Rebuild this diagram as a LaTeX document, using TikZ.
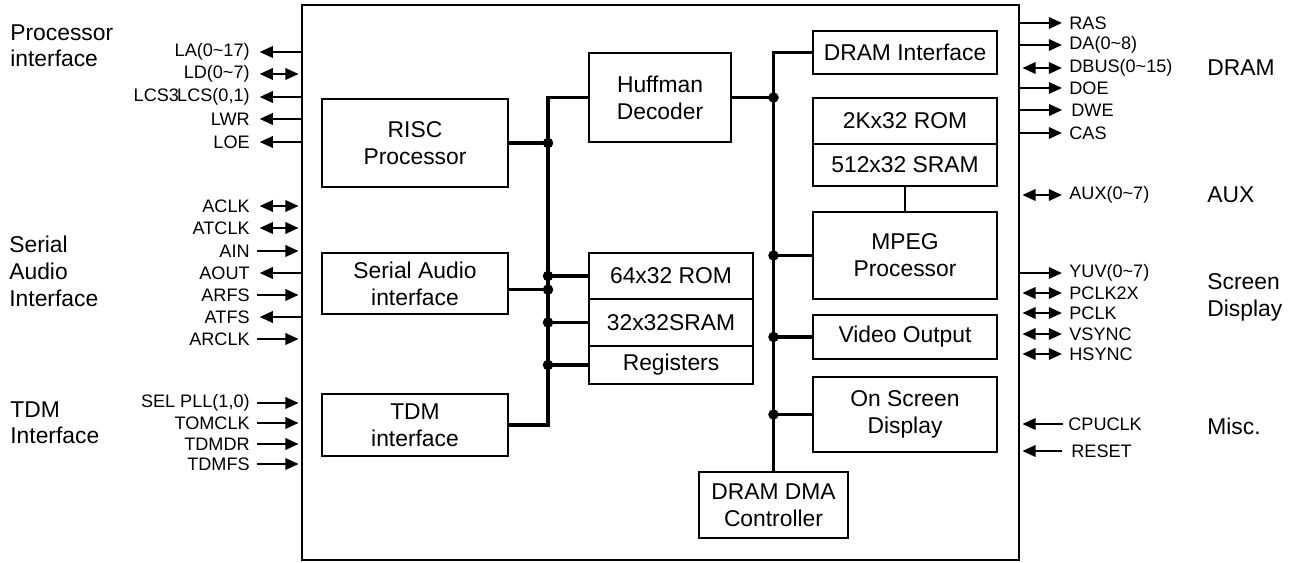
\documentclass[tikz,border=0pt]{standalone}
\usepackage{fontspec}
\setmainfont{Liberation Sans}
\usetikzlibrary{arrows.meta,positioning}

\tikzset{
  blk/.style={draw, line width=1.2pt, align=center, inner sep=0pt, outer sep=0pt, font=\fontsize{13}{15.3}\selectfont},
  grp/.style={inner sep=0pt, align=left, font=\fontsize{13}{15.3}\selectfont},
  pinl/.style={inner sep=0pt, font=\fontsize{10.3}{12}\selectfont},
  bus/.style={line width=2pt},
  sig/.style={line width=1.3pt},
  dot/.style={circle, fill, inner sep=0pt, minimum size=6pt},
}

\begin{document}
\begin{tikzpicture}[x=0.02cm, y=-0.02cm, >={Triangle[length=7.5pt,width=6.5pt]}]
  \useasboundingbox (0,0) rectangle (1294,563);
  \node[draw, line width=1.5pt, outer sep=0pt, minimum width=14.34cm, minimum height=11.1cm] (chip) at (660.5,282.5) {};

  % blocks inside the chip
  \node[blk, minimum width=3.72cm, minimum height=1.76cm] (risc) at (415,143) {RISC\\Processor};
  \node[blk, minimum width=3.72cm, minimum height=1.22cm] (serial) at (415,283.5) {Serial Audio\\interface};
  \node[blk, minimum width=3.72cm, minimum height=1.24cm] (tdm) at (415,425) {TDM\\interface};

  \node[blk, minimum width=2.84cm, minimum height=1.78cm] (huff) at (660,97.5) {Huffman\\Decoder};
  \node[blk, minimum width=3.28cm, minimum height=0.92cm] (rom64) at (671,276) {64x32 ROM};
  \node[blk, minimum width=3.28cm, minimum height=0.94cm, below=0pt of rom64] (sram32) {32x32SRAM};
  \node[blk, minimum width=3.28cm, minimum height=0.76cm, below=0pt of sram32] (regs) {Registers};
  \node[blk, minimum width=2.98cm, minimum height=1.32cm] (dma) at (773.5,505) {DRAM DMA\\Controller};

  \node[blk, minimum width=3.68cm, minimum height=0.86cm] (draminf) at (905,52.5) {DRAM Interface};
  \node[blk, minimum width=3.68cm, minimum height=0.92cm] (rom2k) at (905,121) {2Kx32 ROM};
  \node[blk, minimum width=3.68cm, minimum height=0.84cm, below=0pt of rom2k] (sram512) {512x32 SRAM};
  \node[blk, minimum width=3.68cm, minimum height=1.74cm] (mpeg) at (905,255.5) {MPEG\\Processor};
  \node[blk, minimum width=3.68cm, minimum height=0.88cm] (vout) at (905,337) {Video Output};
  \node[blk, minimum width=3.68cm, minimum height=1.5cm] (osd) at (905,414.5) {On Screen\\Display};

  % left bus
  \coordinate (lb) at (548,0);
  \draw[bus] (huff.west) -- (huff.west -| lb) -- (tdm.east -| lb) -- (tdm.east);
  \draw[bus] (risc.east) -- (risc.east -| lb) node[dot] {};
  \draw[bus] ([yshift=-3.5pt]serial.east) -- ([yshift=-3.5pt]serial.east -| lb) node[dot] {};
  \draw[bus] (rom64.west) -- (rom64.west -| lb) node[dot] {};
  \draw[bus] (sram32.west) -- (sram32.west -| lb) node[dot] {};
  \draw[bus] (regs.west) -- (regs.west -| lb) node[dot] {};

  % right bus
  \draw[bus] (draminf.west) -- (draminf.west -| dma.north) -- (dma.north);
  \draw[bus] (huff.east) -- (huff.east -| dma.north) node[dot] {};
  \draw[bus] (mpeg.west) -- (mpeg.west -| dma.north) node[dot] {};
  \draw[bus] (vout.west) -- (vout.west -| dma.north) node[dot] {};
  \draw[bus] (osd.west) -- (osd.west -| dma.north) node[dot] {};
  \draw[sig] (sram512.south) -- (mpeg.north);

  % processor interface pins
  \node[pinl, anchor=east] (la) at (250,52) {LA(0\textasciitilde17)};
  \node[pinl, anchor=east] (ld) at (250,74) {LD(0\textasciitilde7)};
  \node[pinl, anchor=east] (lcs) at (250,97) {LCS3\kern-1pt LCS(0,1)};
  \node[pinl, anchor=east] (lwr) at (250,119) {LWR};
  \node[pinl, anchor=east] (loe) at (250,142) {LOE};
  \draw[sig, <-] ([xshift=5.5pt]la.east) -- (la -| chip.west);
  \draw[sig, <->] ([xshift=5.5pt]ld.east) -- ([xshift=-2pt]ld -| chip.west);
  \draw[sig, <-] ([xshift=5.5pt]lcs.east) -- (lcs -| chip.west);
  \draw[sig, <-] ([xshift=5.5pt]lwr.east) -- (lwr -| chip.west);
  \draw[sig, <-] ([xshift=5.5pt]loe.east) -- (loe -| chip.west);

  % serial audio pins
  \node[pinl, anchor=east] (aclk) at (250,206) {ACLK};
  \node[pinl, anchor=east] (atclk) at (250,228) {ATCLK};
  \node[pinl, anchor=east] (ain) at (250,251) {AIN};
  \node[pinl, anchor=east] (aout) at (250,273) {AOUT};
  \node[pinl, anchor=east] (arfs) at (250,295) {ARFS};
  \node[pinl, anchor=east] (atfs) at (250,317) {ATFS};
  \node[pinl, anchor=east] (arclk) at (250,339) {ARCLK};
  \draw[sig, <->] ([xshift=5.5pt]aclk.east) -- ([xshift=-2pt]aclk -| chip.west);
  \draw[sig, <->] ([xshift=5.5pt]atclk.east) -- ([xshift=-2pt]atclk -| chip.west);
  \draw[sig, ->] ([xshift=4pt]ain.east) -- ([xshift=-2pt]ain -| chip.west);
  \draw[sig, <-] ([xshift=5.5pt]aout.east) -- (aout -| chip.west);
  \draw[sig, ->] ([xshift=4pt]arfs.east) -- ([xshift=-2pt]arfs -| chip.west);
  \draw[sig, <-] ([xshift=5.5pt]atfs.east) -- (atfs -| chip.west);
  \draw[sig, ->] ([xshift=4pt]arclk.east) -- ([xshift=-2pt]arclk -| chip.west);

  % tdm pins
  \node[pinl, anchor=east] (selpll) at (250,403) {SEL PLL(1,0)};
  \node[pinl, anchor=east] (tomclk) at (250,423) {TOMCLK};
  \node[pinl, anchor=east] (tdmdr) at (250,444) {TDMDR};
  \node[pinl, anchor=east] (tdmfs) at (250,464) {TDMFS};
  \draw[sig, ->] ([xshift=4pt]selpll.east) -- ([xshift=-2pt]selpll -| chip.west);
  \draw[sig, ->] ([xshift=4pt]tomclk.east) -- ([xshift=-2pt]tomclk -| chip.west);
  \draw[sig, ->] ([xshift=4pt]tdmdr.east) -- ([xshift=-2pt]tdmdr -| chip.west);
  \draw[sig, ->] ([xshift=4pt]tdmfs.east) -- ([xshift=-2pt]tdmfs -| chip.west);

  % dram pins
  \node[pinl, anchor=west] (ras) at (1069,23) {RAS};
  \node[pinl, anchor=west] (da) at (1069,45) {DA(0\textasciitilde8)};
  \node[pinl, anchor=west] (dbus) at (1069,68) {DBUS(0\textasciitilde15)};
  \node[pinl, anchor=west] (doe) at (1069,88) {DOE};
  \node[pinl, anchor=west] (dwe) at (1071,110) {DWE};
  \node[pinl, anchor=west] (cas) at (1069,133) {CAS};
  \draw[sig, ->] (ras -| chip.east) -- ([xshift=-4pt]ras.west);
  \draw[sig, ->] (da -| chip.east) -- ([xshift=-4pt]da.west);
  \draw[sig, <->] ([xshift=2pt]dbus -| chip.east) -- ([xshift=-4pt]dbus.west);
  \draw[sig, ->] (doe -| chip.east) -- ([xshift=-4pt]doe.west);
  \draw[sig, ->] (dwe -| chip.east) -- ([xshift=-5pt]dwe.west);
  \draw[sig, ->] (cas -| chip.east) -- ([xshift=-4pt]cas.west);

  % aux and screen pins
  \node[pinl, anchor=west] (aux) at (1069,195) {AUX(0\textasciitilde7)};
  \node[pinl, anchor=west] (yuv) at (1069,273) {YUV(0\textasciitilde7)};
  \node[pinl, anchor=west] (pclkx) at (1069,293) {PCLK2X};
  \node[pinl, anchor=west] (pclk) at (1069,313) {PCLK};
  \node[pinl, anchor=west] (vsync) at (1069,334) {VSYNC};
  \node[pinl, anchor=west] (hsync) at (1069,354) {HSYNC};
  \draw[sig, <->] ([xshift=2pt]aux -| chip.east) -- ([xshift=-4pt]aux.west);
  \draw[sig, ->] (yuv -| chip.east) -- ([xshift=-4pt]yuv.west);
  \draw[sig, <->] ([xshift=2pt]pclkx -| chip.east) -- ([xshift=-4pt]pclkx.west);
  \draw[sig, <->] ([xshift=2pt]pclk -| chip.east) -- ([xshift=-4pt]pclk.west);
  \draw[sig, <->] ([xshift=2pt]vsync -| chip.east) -- ([xshift=-4pt]vsync.west);
  \draw[sig, <->] ([xshift=2pt]hsync -| chip.east) -- ([xshift=-4pt]hsync.west);

  % misc pins
  \node[pinl, anchor=west] (cpuclk) at (1068,424) {CPUCLK};
  \node[pinl, anchor=west] (reset) at (1071,451) {RESET};
  \draw[sig, ->] ([xshift=-3pt]cpuclk.west) -- ([xshift=2pt]cpuclk -| chip.east);
  \draw[sig, ->] ([xshift=-5pt]reset.west) -- ([xshift=2pt]reset -| chip.east);

  % group names
  \node[grp, anchor=north west] (gproc) at (10,24) {Processor\\interface};
  \node[grp, anchor=north west] (gsai) at (9,236) {Serial\\Audio\\Interface};
  \node[grp, anchor=north west] (gtdm) at (10,401) {TDM\\Interface};
  \node[grp, anchor=west] (gdram) at (1207,68) {DRAM};
  \node[grp, anchor=west] (gaux) at (1207,195) {AUX};
  \node[grp, anchor=north west] (gscr) at (1207,273) {Screen\\Display};
  \node[grp, anchor=west] (gmisc) at (1207,426) {Misc.};
\end{tikzpicture}
\end{document}
